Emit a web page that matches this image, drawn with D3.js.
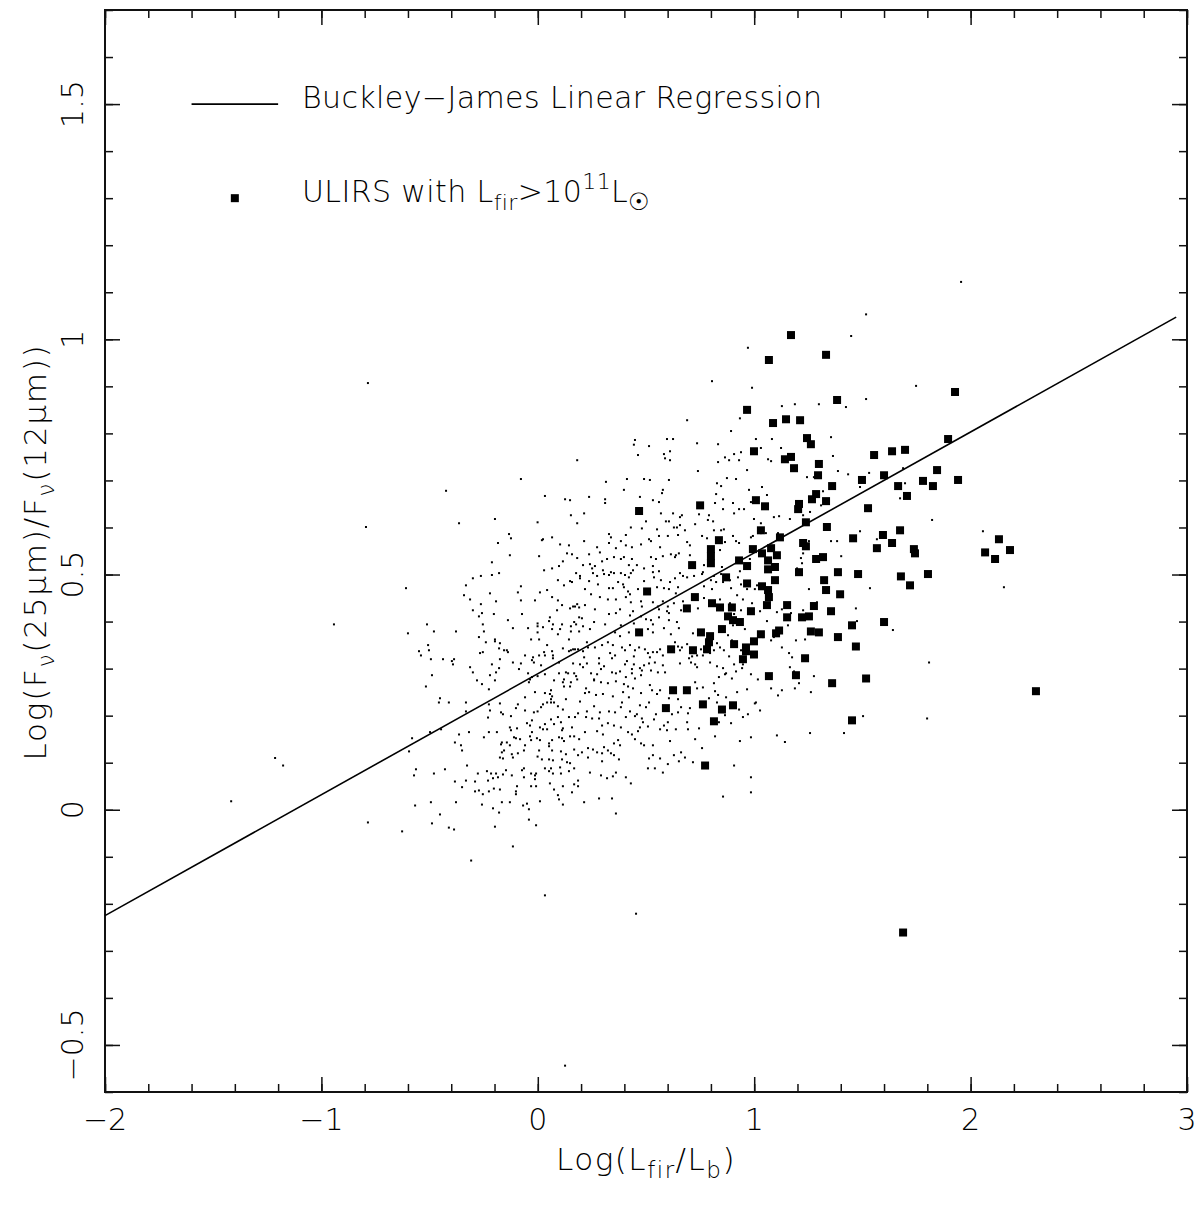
<!DOCTYPE html>
<html>
<head>
<meta charset="utf-8">
<script src="https://cdn.jsdelivr.net/npm/d3@7.9.0/dist/d3.min.js"></script>
<style>
  body { margin: 0; background: #fff; }
  text { font-family: "DejaVu Sans", sans-serif; font-weight: 200; fill: #000; }
</style>
</head>
<body>
<svg id="chart" width="1198" height="1207"></svg>
<script>
// axis ticks
const xTicks = [-2, -1, 0, 1, 2, 3];
const yTicks = [-0.5, 0, 0.5, 1, 1.5];

// Buckley-James fit: y = a + b x
const fitIntercept = 0.289;
const fitSlope = 0.257;
const fitRange = [-2, 2.95];

// ULIRS with Lfir > 1e11 Lsun  [log(Lfir/Lb), log(F25/F12)]
const ulirs = [
[1.170,1.009],[1.332,0.967],[1.068,0.956],[1.928,0.888],[1.383,0.871],[0.967,0.850],[1.147,0.830],[1.212,0.828],
[1.087,0.822],[1.244,0.790],[1.262,0.777],[1.896,0.788],[0.999,0.762],[1.637,0.762],[1.697,0.765],[1.554,0.754],
[1.142,0.745],[1.170,0.750],[1.184,0.726],[1.299,0.735],[1.845,0.722],[1.295,0.711],[1.600,0.711],[1.498,0.701],
[1.780,0.699],[1.942,0.701],[1.826,0.688],[1.360,0.688],[1.665,0.688],[1.706,0.667],[1.286,0.671],[1.267,0.660],
[1.008,0.658],[1.332,0.656],[1.207,0.650],[1.050,0.645],[1.203,0.639],[1.526,0.641],[1.239,0.611],[1.336,0.601],
[1.031,0.594],[1.674,0.594],[1.119,0.579],[1.595,0.584],[1.457,0.577],[0.837,0.573],[1.226,0.567],[1.239,0.560],
[1.078,0.556],[0.994,0.554],[1.567,0.556],[1.637,0.567],[1.738,0.554],[1.743,0.545],[1.036,0.545],[1.105,0.541],
[1.286,0.533],[1.318,0.537],[0.930,0.530],[1.064,0.530],[0.967,0.518],[1.096,0.516],[1.064,0.511],[1.207,0.505],
[1.387,0.505],[1.480,0.501],[1.678,0.496],[1.803,0.501],[0.870,0.494],[1.323,0.488],[1.096,0.488],[0.967,0.481],
[1.036,0.475],[1.064,0.467],[1.332,0.467],[1.397,0.458],[1.720,0.477],[1.068,0.452],[1.152,0.435],[1.276,0.433],
[1.059,0.435],[0.897,0.430],[0.842,0.430],[0.985,0.422],[1.355,0.422],[0.879,0.411],[1.152,0.409],[1.221,0.409],
[1.253,0.411],[0.902,0.403],[0.934,0.399],[1.452,0.392],[1.600,0.399],[0.851,0.384],[1.031,0.373],[1.101,0.375],
[1.115,0.381],[1.262,0.379],[1.299,0.377],[1.387,0.367],[0.999,0.358],[0.907,0.352],[0.962,0.345],[0.962,0.337],
[0.999,0.330],[1.470,0.347],[1.235,0.322],[0.948,0.320],[1.068,0.284],[1.193,0.286],[1.517,0.279],[1.360,0.269],
[0.902,0.222],[0.851,0.213],[1.452,0.190],[0.468,0.635],[0.750,0.647],[0.800,0.554],[0.800,0.539],[0.800,0.524],
[0.713,0.520],[0.505,0.464],[0.726,0.452],[0.805,0.439],[0.689,0.428],[0.468,0.377],[0.754,0.377],[0.796,0.369],
[0.791,0.356],[0.616,0.341],[0.717,0.339],[0.782,0.341],[0.625,0.254],[0.689,0.254],[0.592,0.216],[0.763,0.224],
[0.814,0.188],[0.773,0.094],[2.131,0.575],[2.067,0.547],[2.182,0.552],[2.113,0.533],[2.302,0.252],[1.688,-0.261]
];

// whole sample (small dots)
const galaxies = [
[0.182,0.743],[-0.078,0.703],[-0.424,0.678],[0.033,0.667],[0.126,0.660],[0.149,0.658],[0.153,0.626],[-0.198,0.618],
[-0.364,0.609],[-0.001,0.611],[0.182,0.609],[-0.133,0.586],[-0.124,0.577],[0.024,0.575],[0.019,0.573],[0.066,0.579],
[-0.184,0.567],[0.103,0.564],[0.144,0.562],[-0.129,0.541],[0.006,0.539],[0.135,0.545],[0.158,0.543],[0.182,0.535],
[0.116,0.528],[-0.212,0.526],[0.098,0.518],[0.066,0.513],[0.029,0.509],[0.177,0.503],[-0.179,0.503],[-0.212,0.499],
[-0.263,0.497],[-0.300,0.492],[0.195,0.492],[0.093,0.488],[0.149,0.486],[0.158,0.484],[0.121,0.477],[-0.332,0.477],
[-0.078,0.475],[-0.609,0.471],[0.043,0.467],[0.010,0.462],[-0.092,0.462],[-0.221,0.460],[-0.341,0.456],[0.066,0.452],
[-0.313,0.447],[-0.078,0.445],[-0.013,0.445],[-0.193,0.443],[0.093,0.445],[0.112,0.435],[-0.263,0.437],[0.163,0.432],
[0.172,0.432],[0.182,0.437],[0.191,0.430],[0.149,0.428],[0.089,0.424],[-0.300,0.424],[-0.258,0.418],[-0.203,0.416],
[-0.073,0.416],[-0.272,0.411],[0.191,0.409],[0.056,0.409],[0.052,0.401],[-0.138,0.403],[0.168,0.399],[0.177,0.394],
[-0.512,0.394],[-0.001,0.396],[0.070,0.394],[-0.254,0.394],[0.112,0.394],[-0.001,0.390],[0.153,0.390],[0.024,0.388],
[-0.115,0.386],[-0.045,0.386],[0.066,0.384],[0.103,0.384],[-0.480,0.379],[-0.378,0.379],[-0.249,0.379],[-0.001,0.377],
[0.153,0.379],[0.191,0.379],[-0.600,0.375],[0.093,0.373],[-0.272,0.367],[-0.198,0.362],[-0.031,0.362],[0.006,0.362],
[0.144,0.362],
[-0.507,0.350],[-0.549,0.337],[-0.540,0.328],[-0.503,0.339],[-0.494,0.320],[-0.438,0.320],[-0.397,0.316],[-0.387,0.320],
[-0.392,0.309],[-0.313,0.303],[-0.300,0.292],[-0.489,0.286],[-0.517,0.262],[-0.240,0.356],[-0.198,0.358],[-0.175,0.354],
[-0.179,0.343],[-0.156,0.339],[-0.143,0.339],[-0.138,0.335],[-0.267,0.333],[-0.254,0.335],[-0.175,0.320],[-0.212,0.309],
[-0.179,0.301],[-0.193,0.292],[-0.221,0.286],[-0.198,0.275],[-0.281,0.275],[-0.258,0.267],[-0.226,0.256],[-0.115,0.313],
[-0.087,0.299],[-0.078,0.311],[-0.059,0.328],[-0.027,0.318],[-0.018,0.313],[-0.022,0.324],[0.006,0.328],[0.029,0.335],
[0.033,0.328],[0.043,0.350],[0.066,0.337],[0.070,0.328],[0.015,0.307],[-0.027,0.282],[-0.036,0.277],[-0.041,0.271],
[-0.045,0.290],[-0.001,0.284],[0.033,0.288],[0.070,0.322],[0.098,0.313],[0.116,0.343],[0.144,0.337],[0.153,0.339],
[0.163,0.341],[0.172,0.341],[0.186,0.341],[0.163,0.311],[0.130,0.292],[0.140,0.290],[0.121,0.277],[0.116,0.271],
[0.121,0.262],[0.168,0.290],[0.177,0.284],[0.153,0.271],[0.182,0.277],[0.149,0.262],[0.075,0.275],[0.098,0.290],
[-0.092,0.224],[-0.059,0.239],[-0.013,0.250],[0.033,0.248],[0.061,0.254],[0.056,0.246],[0.066,0.241],[0.061,0.235],
[0.061,0.228],[0.043,0.228],[0.075,0.228],[0.130,0.235],[0.116,0.213],[0.093,0.220],[0.024,0.224],[0.015,0.218],
[-0.001,0.209],[-0.018,0.207],[-0.059,0.211],[-0.101,0.216],[-0.124,0.199],[-0.170,0.207],[-0.161,0.203],[-0.175,0.226],
[-0.226,0.224],[-0.221,0.211],[-0.230,0.196],[-0.332,0.228],[-0.411,0.228],[-0.452,0.237],[-0.457,0.228],[-0.332,0.209],
[-0.036,0.179],[-0.027,0.190],[-0.050,0.184],[0.010,0.175],[0.024,0.171],[0.033,0.182],[0.043,0.171],[0.061,0.192],
[0.075,0.182],[0.093,0.197],[0.107,0.186],[0.116,0.173],[0.112,0.169],[0.144,0.197],[0.158,0.175],[0.172,0.197],
[0.186,0.205],[0.149,0.156],[0.168,0.156],[0.191,0.150],[0.112,0.152],[0.098,0.154],[0.121,0.146],[0.066,0.148],
[0.052,0.141],[0.052,0.135],[0.010,0.148],[-0.004,0.152],[-0.031,0.148],[-0.027,0.165],[-0.036,0.156],[-0.096,0.173],
[-0.129,0.175],[-0.124,0.169],[-0.101,0.152],[-0.110,0.154],[-0.082,0.150],[-0.059,0.137],[-0.129,0.137],[-0.166,0.143],
[-0.170,0.139],[-0.143,0.143],[-0.156,0.126],[-0.166,0.122],[-0.189,0.165],[-0.226,0.165],[-0.249,0.154],[-0.318,0.165],
[-0.364,0.160],[-0.383,0.143],[-0.355,0.137],[-0.350,0.126],[-0.595,0.124],[-0.581,0.152],[-0.498,0.165],[-0.447,0.171],
[-0.175,0.111],[-0.161,0.109],[-0.120,0.118],[-0.115,0.111],[-0.092,0.120],[-0.064,0.126],[0.006,0.126],[-0.001,0.113],
[0.019,0.107],[0.052,0.107],[0.066,0.126],[0.107,0.124],[0.070,0.105],[0.112,0.107],[0.130,0.118],[0.168,0.128],
[0.186,0.116],[0.135,0.101],[0.149,0.099],[0.168,0.088],[0.033,0.088],[0.061,0.088],[0.052,0.082],[0.103,0.090],
[0.070,0.077],[0.107,0.077],[0.144,0.082],[0.186,0.062],[0.168,0.054],[0.186,0.050],[0.158,0.037],[0.116,0.050],
[0.075,0.043],[0.056,0.056],[-0.013,0.073],[-0.013,0.065],[-0.008,0.077],[-0.031,0.077],[-0.064,0.088],[-0.073,0.084],
[-0.064,0.069],[-0.031,0.050],[-0.008,0.050],[-0.096,0.050],[-0.101,0.039],[-0.101,0.033],[-0.120,0.073],[-0.147,0.084],
[-0.161,0.075],[-0.184,0.069],[-0.207,0.067],[-0.216,0.077],[-0.235,0.082],[-0.193,0.077],[-0.230,0.062],[-0.226,0.039],
[-0.203,0.045],[-0.175,0.043],[-0.277,0.077],[-0.272,0.041],[-0.290,0.039],[-0.254,0.033],[-0.290,0.060],[-0.332,0.062],
[-0.350,0.048],[-0.383,0.060],[-0.327,0.094],[-0.429,0.086],[-0.480,0.077],[-0.563,0.086],[-0.572,0.073],[-0.129,0.016],
[-0.166,0.016],[-0.068,0.009],[-0.050,0.013],[-0.041,0.001],[0.010,0.018],[0.116,0.011],[0.098,0.022],[0.093,0.031],
[-0.258,0.011],[-0.207,0.003],[-0.378,0.016],[-0.494,0.016],[-0.567,0.009],[-0.452,-0.010],[-0.489,-0.029],[-0.411,-0.038],
[-0.387,-0.042],[-0.627,-0.046],[-0.198,-0.036],[-0.179,-0.006],[-0.041,-0.021],[-0.008,-0.033],[-0.115,-0.078],
[0.690,0.828],[0.893,0.805],[0.449,0.786],[0.444,0.776],[0.463,0.754],[0.514,0.773],[0.597,0.788],[0.625,0.788],
[0.736,0.779],[0.833,0.777],[1.008,0.788],[1.031,0.769],[0.939,0.760],[0.907,0.756],[0.865,0.749],[0.884,0.743],
[0.930,0.743],[0.833,0.739],[0.583,0.756],[0.588,0.747],[0.611,0.762],[0.611,0.743],[1.064,0.745],[1.078,0.741],
[0.740,0.720],[0.967,0.722],[0.874,0.705],[0.916,0.703],[0.315,0.697],[0.412,0.703],[0.491,0.703],[0.518,0.701],
[0.606,0.701],[0.398,0.680],[0.578,0.680],[0.574,0.673],[0.828,0.694],[0.847,0.688],[0.824,0.671],[0.976,0.680],
[1.036,0.686],[0.237,0.665],[0.311,0.660],[0.311,0.652],[0.472,0.665],[0.532,0.658],[0.560,0.654],[0.819,0.652],
[0.902,0.652],[0.930,0.639],[0.953,0.639],[0.856,0.639],[0.745,0.628],[0.791,0.626],[0.214,0.630],[0.569,0.630],
[0.625,0.630],[0.657,0.622],[0.666,0.626],[0.999,0.618],[1.091,0.622],[0.500,0.613],[0.592,0.613],[0.606,0.613],
[0.786,0.616],[0.810,0.613],[0.727,0.607],[0.430,0.600],[0.481,0.598],[0.551,0.596],[0.629,0.600],[0.643,0.600],
[0.657,0.605],[0.680,0.594],[0.814,0.594],[0.860,0.596],[0.759,0.582],[0.782,0.577],[0.329,0.586],[0.338,0.579],
[0.407,0.584],[0.514,0.575],[0.523,0.571],[0.560,0.582],[0.601,0.582],[0.648,0.584],[0.214,0.571],[0.274,0.558],
[0.329,0.567],[0.361,0.556],[0.384,0.571],[0.407,0.562],[0.435,0.558],[0.477,0.564],[0.565,0.558],[0.703,0.562],
[0.690,0.569],[0.902,0.582],[0.930,0.567],[0.985,0.579],[0.237,0.543],[0.287,0.547],[0.320,0.533],[0.352,0.537],
[0.384,0.533],[0.398,0.537],[0.435,0.533],[0.458,0.520],[0.523,0.537],[0.546,0.533],[0.578,0.539],[0.615,0.543],
[0.638,0.541],[0.652,0.545],[0.634,0.537],[0.703,0.541],[0.768,0.520],[0.763,0.505],[0.209,0.520],[0.241,0.522],
[0.251,0.513],[0.264,0.518],[0.297,0.528],[0.301,0.509],[0.306,0.501],[0.338,0.505],[0.352,0.503],[0.329,0.499],
[0.195,0.497],[0.255,0.503],[0.274,0.497],[0.384,0.503],[0.403,0.499],[0.421,0.520],[0.430,0.503],[0.440,0.509],
[0.421,0.494],[0.491,0.513],[0.532,0.518],[0.532,0.505],[0.560,0.507],[0.537,0.494],[0.657,0.503],[0.671,0.497],
[0.690,0.494],[0.722,0.497],[0.759,0.501],[0.814,0.497],[0.847,0.501],[0.800,0.488],[0.237,0.486],[0.278,0.479],
[0.371,0.484],[0.394,0.479],[0.491,0.486],[0.569,0.488],[0.611,0.484],[0.634,0.492],[0.824,0.484],[0.856,0.484],
[0.888,0.488],[0.218,0.469],[0.329,0.471],[0.347,0.471],[0.398,0.473],[0.417,0.464],[0.426,0.458],[0.463,0.469],
[0.551,0.473],[0.583,0.471],[0.606,0.469],[0.648,0.473],[0.638,0.460],[0.768,0.475],[0.805,0.469],[0.246,0.458],
[0.287,0.452],[0.324,0.447],[0.361,0.447],[0.407,0.452],[0.430,0.441],[0.477,0.443],[0.532,0.441],[0.555,0.432],
[0.578,0.443],[0.601,0.432],[0.629,0.439],[0.671,0.443],[0.768,0.450],[0.218,0.435],[0.264,0.426],[0.380,0.426],
[0.440,0.422],[0.481,0.432],[0.560,0.426],[0.597,0.422],[0.662,0.424],[0.740,0.428],[0.329,0.416],[0.361,0.418],
[0.426,0.413],[0.477,0.411],[0.500,0.405],[0.523,0.403],[0.560,0.409],[0.606,0.418],[0.204,0.407],[0.260,0.399],
[0.311,0.394],[0.384,0.392],[0.444,0.396],[0.532,0.394],[0.606,0.403],[0.643,0.399],[0.209,0.390],[0.241,0.384],
[0.357,0.377],[0.380,0.369],[0.421,0.377],[0.509,0.384],[0.532,0.377],[0.583,0.386],[0.615,0.373],[0.652,0.386],
[0.717,0.375],
[0.209,0.337],[0.227,0.356],[0.232,0.345],[0.264,0.345],[0.297,0.350],[0.324,0.356],[0.347,0.350],[0.334,0.333],
[0.357,0.328],[0.389,0.345],[0.403,0.339],[0.426,0.350],[0.449,0.339],[0.468,0.345],[0.444,0.326],[0.495,0.341],
[0.509,0.333],[0.518,0.324],[0.532,0.335],[0.551,0.335],[0.565,0.341],[0.578,0.328],[0.634,0.356],[0.648,0.347],
[0.666,0.345],[0.690,0.352],[0.657,0.339],[0.699,0.322],[0.713,0.326],[0.736,0.328],[0.754,0.341],[0.708,0.313],
[0.657,0.311],[0.727,0.309],[0.736,0.303],[0.763,0.328],[0.796,0.333],[0.814,0.339],[0.828,0.354],[0.842,0.345],
[0.860,0.339],[0.884,0.326],[0.796,0.313],[0.828,0.305],[0.856,0.301],[0.214,0.324],[0.227,0.311],[0.209,0.303],
[0.195,0.309],[0.246,0.290],[0.260,0.277],[0.283,0.322],[0.283,0.311],[0.306,0.305],[0.292,0.299],[0.274,0.288],
[0.343,0.292],[0.361,0.290],[0.380,0.294],[0.343,0.322],[0.403,0.309],[0.412,0.316],[0.444,0.309],[0.435,0.299],
[0.435,0.290],[0.449,0.279],[0.472,0.301],[0.491,0.307],[0.481,0.296],[0.514,0.311],[0.541,0.313],[0.523,0.296],
[0.578,0.307],[0.588,0.292],[0.555,0.292],[0.477,0.286],[0.407,0.282],[0.398,0.267],[0.417,0.262],[0.361,0.273],
[0.324,0.269],[0.292,0.271],[0.260,0.275],[0.223,0.258],[0.218,0.248],[0.237,0.250],[0.269,0.244],[0.301,0.246],
[0.347,0.241],[0.394,0.250],[0.440,0.258],[0.477,0.248],[0.518,0.265],[0.528,0.254],[0.565,0.254],[0.551,0.246],
[0.472,0.222],[0.514,0.228],[0.421,0.239],[0.389,0.228],[0.384,0.218],[0.426,0.209],[0.458,0.203],[0.500,0.218],
[0.546,0.203],[0.537,0.192],[0.481,0.194],[0.449,0.199],[0.407,0.197],[0.357,0.207],[0.329,0.209],[0.287,0.207],
[0.260,0.220],[0.227,0.209],[0.223,0.197],[0.195,0.230],[0.251,0.194],[0.283,0.194],[0.297,0.179],[0.218,0.165],
[0.274,0.167],[0.301,0.160],[0.324,0.184],[0.352,0.179],[0.384,0.175],[0.417,0.165],[0.435,0.160],[0.463,0.167],
[0.472,0.175],[0.486,0.186],[0.509,0.177],[0.565,0.171],[0.583,0.179],[0.601,0.186],[0.620,0.203],[0.606,0.237],
[0.648,0.235],[0.648,0.207],[0.662,0.218],[0.694,0.205],[0.703,0.216],[0.690,0.186],[0.694,0.171],[0.638,0.171],
[0.597,0.169],[0.727,0.271],[0.736,0.258],[0.763,0.260],[0.791,0.237],[0.814,0.269],[0.819,0.252],[0.833,0.244],
[0.837,0.282],[0.870,0.290],[0.897,0.279],[0.916,0.294],[0.948,0.309],[0.967,0.256],[0.985,0.288],[1.017,0.277],
[1.078,0.258],[0.921,0.250],[0.870,0.239],[0.828,0.228],[0.888,0.222],[0.865,0.201],[0.837,0.186],[0.893,0.184],
[0.930,0.213],[0.948,0.197],[0.971,0.203],[1.008,0.228],[1.027,0.211],[0.985,0.154],[0.934,0.146],[0.819,0.156],
[0.727,0.150],[0.745,0.173],[0.759,0.131],[0.662,0.122],[0.680,0.111],[0.652,0.103],[0.717,0.101],[0.601,0.097],
[0.629,0.116],[0.611,0.146],[0.565,0.109],[0.532,0.116],[0.514,0.109],[0.532,0.137],[0.491,0.137],[0.477,0.141],
[0.449,0.150],[0.380,0.137],[0.371,0.148],[0.352,0.141],[0.338,0.120],[0.324,0.126],[0.306,0.133],[0.297,0.120],
[0.274,0.122],[0.255,0.128],[0.232,0.131],[0.232,0.111],[0.204,0.122],[0.297,0.103],[0.352,0.116],[0.375,0.107],
[0.407,0.069],[0.430,0.056],[0.361,0.079],[0.347,0.071],[0.320,0.067],[0.292,0.073],[0.241,0.079],[0.509,0.088],
[0.541,0.088],[0.578,0.079],[0.907,0.094],[0.856,0.028],[0.985,0.069],[0.985,0.037],[1.105,0.158],[0.214,0.016],
[0.283,0.024],[0.343,0.024],[0.361,-0.008],[1.110,0.243],
[1.448,1.007],[0.971,0.982],[0.990,0.897],[1.748,0.901],[1.128,0.858],[1.188,0.862],[1.299,0.862],[1.517,0.873],
[1.424,0.856],[0.934,0.832],[1.082,0.788],[1.355,0.792],[1.124,0.769],[1.364,0.752],[1.387,0.720],[1.434,0.713],
[1.531,0.716],[1.688,0.726],[1.244,0.707],[1.276,0.707],[1.318,0.677],[1.697,0.694],[1.489,0.686],[1.674,0.662],
[1.059,0.669],[0.856,0.660],[0.985,0.654],[0.907,0.630],[1.115,0.624],[1.165,0.618],[1.226,0.626],[1.258,0.633],
[1.309,0.647],[1.031,0.609],[0.847,0.594],[0.994,0.582],[1.031,0.588],[1.054,0.588],[1.110,0.588],[0.916,0.571],
[0.865,0.569],[0.842,0.552],[1.253,0.571],[1.355,0.571],[1.383,0.571],[1.489,0.592],[1.567,0.575],[1.822,0.616],
[1.226,0.545],[1.216,0.535],[1.402,0.539],[0.980,0.533],[1.054,0.533],[0.851,0.516],[0.934,0.507],[1.198,0.513],
[1.221,0.524],
[0.925,0.494],[0.939,0.479],[0.893,0.471],[0.967,0.469],[1.003,0.469],[1.013,0.477],[1.253,0.469],[1.535,0.471],
[0.842,0.447],[0.921,0.456],[0.948,0.447],[0.990,0.439],[0.888,0.439],[0.939,0.424],[1.027,0.422],[1.105,0.420],
[1.128,0.426],[1.170,0.418],[1.226,0.424],[1.290,0.441],[1.470,0.428],[1.475,0.401],[1.641,0.382],[1.059,0.401],
[1.156,0.392],[0.907,0.416],[0.902,0.392],[0.957,0.384],[0.879,0.371],[0.897,0.360],[1.040,0.367],[1.078,0.360],
[1.091,0.367],[1.193,0.360],[1.235,0.362],[1.128,0.345],[1.161,0.333],[1.175,0.324],[0.939,0.339],[0.907,0.309],
[0.944,0.301],[0.865,0.288],[1.165,0.303],[1.184,0.294],[1.276,0.284],[1.207,0.269],[1.188,0.258],[1.128,0.254],
[1.262,0.250],[1.808,0.313],[1.003,0.226],[1.503,0.199],[1.799,0.194],[1.258,0.163],[1.415,0.163],[1.142,0.144],
[1.956,1.122],[1.517,1.053],[0.805,0.911],[2.057,0.592],[2.154,0.473],[-0.785,0.907],[-0.794,0.601],[-0.942,0.394],
[-1.214,0.110],[-1.177,0.094],[-1.417,0.018],[-0.785,-0.027],[-0.308,-0.108],[0.033,-0.182],[0.454,-0.221],[0.126,-0.544]
];

const svg = d3.select('#chart');

const x = d3.scaleLinear().domain([-2, 3]).range([105, 1187]);
const y = d3.scaleLinear().domain([-0.6, 1.7]).range([1092, 10]);

const xMinor = d3.range(-20, 31, 2).map(v => v / 10);
const yMinor = d3.range(-6, 18, 1).map(v => v / 10);

// ticks on all four sides, pointing inward
function drawTicks(axis, values, size, transform) {
  svg.append('g')
    .attr('transform', transform)
    .call(axis.tickValues(values).tickSize(size).tickFormat(''))
    .call(g => g.select('.domain').remove())
    .call(g => g.selectAll('line').attr('stroke', '#111').attr('stroke-width', 1.5));
}
drawTicks(d3.axisBottom(x), xMinor, -8, `translate(0,${y.range()[0]})`);
drawTicks(d3.axisBottom(x), xTicks, -15, `translate(0,${y.range()[0]})`);
drawTicks(d3.axisTop(x), xMinor, -8, `translate(0,${y.range()[1]})`);
drawTicks(d3.axisTop(x), xTicks, -15, `translate(0,${y.range()[1]})`);
drawTicks(d3.axisLeft(y), yMinor, -8, `translate(${x.range()[0]},0)`);
drawTicks(d3.axisLeft(y), yTicks, -15, `translate(${x.range()[0]},0)`);
drawTicks(d3.axisRight(y), yMinor, -8, `translate(${x.range()[1]},0)`);
drawTicks(d3.axisRight(y), yTicks, -15, `translate(${x.range()[1]},0)`);

// frame
svg.append('rect')
  .attr('x', x.range()[0]).attr('y', y.range()[1])
  .attr('width', x.range()[1] - x.range()[0])
  .attr('height', y.range()[0] - y.range()[1])
  .attr('fill', 'none').attr('stroke', '#111').attr('stroke-width', 2);

const fmt = d3.format('~g');

// tick labels
svg.append('g').selectAll('text').data(xTicks).join('text')
  .attr('x', d => x(d)).attr('y', 1130)
  .attr('text-anchor', 'middle').attr('font-size', 30)
  .text(fmt);

svg.append('g').selectAll('text').data(yTicks).join('text')
  .attr('transform', d => `translate(83,${y(d)}) rotate(-90)`)
  .attr('text-anchor', 'middle').attr('font-size', 30)
  .text(fmt);

// axis titles
const xt = svg.append('text')
  .attr('x', 646).attr('y', 1170)
  .attr('text-anchor', 'middle').attr('font-size', 31)
  .attr('letter-spacing', 1.5);
xt.append('tspan').text('Log(L');
xt.append('tspan').attr('dy', 8).attr('font-size', 23).text('fir');
xt.append('tspan').attr('dy', -8).text('/L');
xt.append('tspan').attr('dy', 8).attr('font-size', 23).text('b');
xt.append('tspan').attr('dy', -8).text(')');

const yt = svg.append('text')
  .attr('transform', 'translate(46,552) rotate(-90)')
  .attr('text-anchor', 'middle').attr('font-size', 31)
  .attr('letter-spacing', 1.8);
yt.append('tspan').text('Log(F');
yt.append('tspan').attr('dy', 8).attr('font-size', 23).text('ν');
yt.append('tspan').attr('dy', -8).text('(25μm)/F');
yt.append('tspan').attr('dy', 8).attr('font-size', 23).text('ν');
yt.append('tspan').attr('dy', -8).text('(12μm))');

// small dots: whole sample
svg.append('g').selectAll('rect').data(galaxies).join('rect')
  .attr('x', d => x(d[0]) - 1).attr('y', d => y(d[1]) - 1)
  .attr('width', 2).attr('height', 2).attr('fill', '#000');

// regression line
const line = d3.line().x(d => x(d)).y(d => y(fitIntercept + fitSlope * d));
svg.append('path')
  .attr('d', line(fitRange))
  .attr('fill', 'none').attr('stroke', '#000').attr('stroke-width', 1.6);

// ULIRS squares
svg.append('g').selectAll('rect').data(ulirs).join('rect')
  .attr('x', d => x(d[0]) - 4).attr('y', d => y(d[1]) - 4)
  .attr('width', 8).attr('height', 8).attr('fill', '#000');

// legend
svg.append('line')
  .attr('x1', x(-1.6)).attr('x2', x(-1.2))
  .attr('y1', y(1.5)).attr('y2', y(1.5))
  .attr('stroke', '#000').attr('stroke-width', 1.6);
svg.append('text')
  .attr('x', 302).attr('y', y(1.5) + 4).attr('font-size', 30)
  .attr('letter-spacing', 0.4)
  .text('Buckley−James Linear Regression');

svg.append('rect')
  .attr('x', x(-1.4) - 4).attr('y', y(1.3) - 4)
  .attr('width', 8).attr('height', 8).attr('fill', '#000');
const lt = svg.append('text')
  .attr('x', 302).attr('y', y(1.3) + 4).attr('font-size', 30)
  .attr('letter-spacing', 0.4);
lt.append('tspan').text('ULIRS with L');
lt.append('tspan').attr('dy', 8).attr('font-size', 22).text('fir');
lt.append('tspan').attr('dy', -8).text('>10');
lt.append('tspan').attr('dy', -13).attr('font-size', 22).text('11');
lt.append('tspan').attr('dy', 13).text('L');
lt.append('tspan').attr('dy', 8).attr('font-size', 24).text('☉');
</script>
</body>
</html>
